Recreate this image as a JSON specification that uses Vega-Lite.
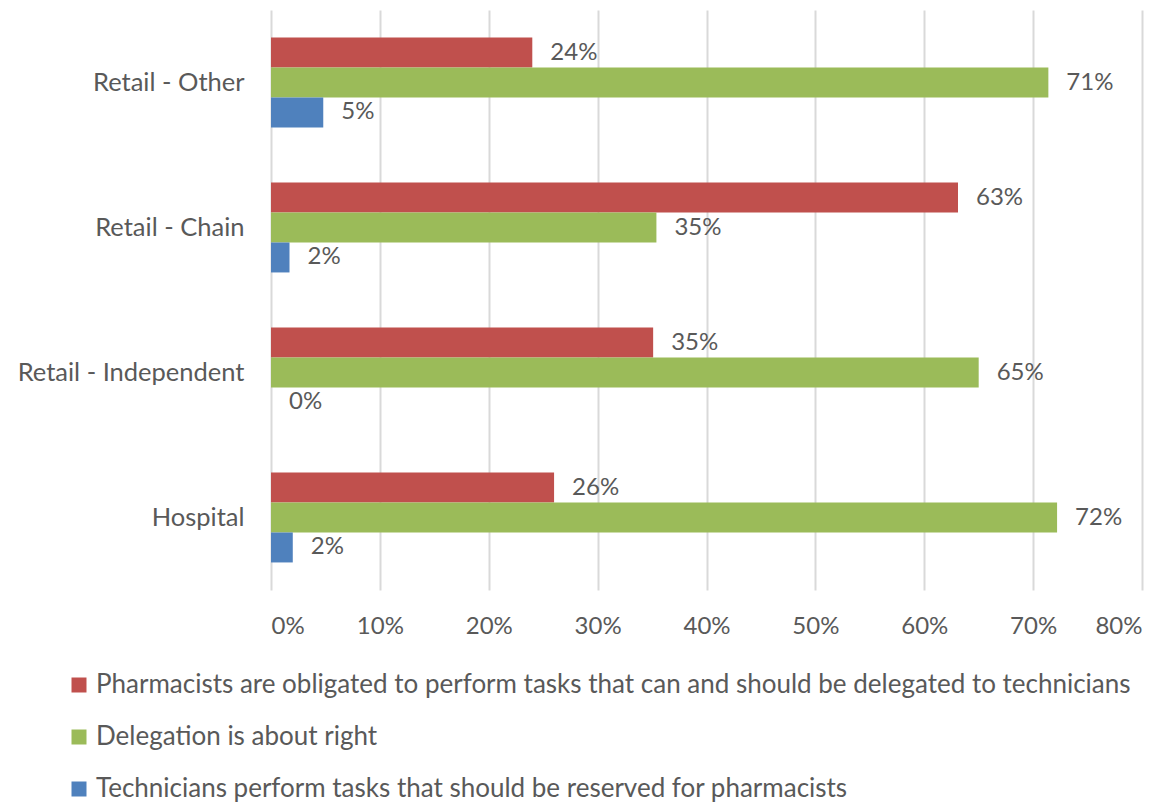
{
  "$schema": "https://vega.github.io/schema/vega-lite/v6.json",
  "autosize": {"type": "none"},
  "padding": {"left": 271, "top": 10, "right": 28, "bottom": 214},
  "width": 871,
  "height": 580,
  "background": "white",
  "config": {
    "font": "Lato",
    "view": {"stroke": null},
    "axis": {"labelFont": "Lato", "labelColor": "#595959"},
    "legend": {"labelFont": "Lato", "labelColor": "#595959", "labelFontSize": 26}
  },
  "data": {
    "values": [
      {"category": "Retail - Other", "series": "Pharmacists are obligated to perform tasks that can and should be delegated to technicians", "order": 1, "value": 0.24},
      {"category": "Retail - Other", "series": "Delegation is about right", "order": 2, "value": 0.714},
      {"category": "Retail - Other", "series": "Technicians perform tasks that should be reserved for pharmacists", "order": 3, "value": 0.048},
      {"category": "Retail - Chain", "series": "Pharmacists are obligated to perform tasks that can and should be delegated to technicians", "order": 1, "value": 0.631},
      {"category": "Retail - Chain", "series": "Delegation is about right", "order": 2, "value": 0.354},
      {"category": "Retail - Chain", "series": "Technicians perform tasks that should be reserved for pharmacists", "order": 3, "value": 0.017},
      {"category": "Retail - Independent", "series": "Pharmacists are obligated to perform tasks that can and should be delegated to technicians", "order": 1, "value": 0.351},
      {"category": "Retail - Independent", "series": "Delegation is about right", "order": 2, "value": 0.65},
      {"category": "Retail - Independent", "series": "Technicians perform tasks that should be reserved for pharmacists", "order": 3, "value": 0},
      {"category": "Hospital", "series": "Pharmacists are obligated to perform tasks that can and should be delegated to technicians", "order": 1, "value": 0.26},
      {"category": "Hospital", "series": "Delegation is about right", "order": 2, "value": 0.722},
      {"category": "Hospital", "series": "Technicians perform tasks that should be reserved for pharmacists", "order": 3, "value": 0.02}
    ]
  },
  "encoding": {
    "y": {
      "field": "category", "type": "nominal",
      "sort": ["Retail - Other", "Retail - Chain", "Retail - Independent", "Hospital"],
      "scale": {"paddingInner": 0.38, "paddingOuter": 0.19},
      "axis": {"title": null, "ticks": false, "domain": false, "labelPadding": 27, "labelLimit": 400, "labelFontSize": 25.5}
    },
    "yOffset": {
      "field": "series", "type": "nominal",
      "sort": {"field": "order"},
      "scale": {"paddingInner": 0, "paddingOuter": 0}
    },
    "x": {
      "field": "value", "type": "quantitative",
      "scale": {"domain": [0, 0.8], "nice": false},
      "axis": {"title": null, "format": ".0%", "values": [0, 0.1, 0.2, 0.3, 0.4, 0.5, 0.6, 0.7, 0.8], "grid": true, "gridColor": "#D9D9D9", "gridWidth": 2, "ticks": false, "domain": false, "labelPadding": 24, "labelFontSize": 24}
    }
  },
  "layer": [
    {
      "mark": {"type": "bar"},
      "encoding": {
        "color": {
          "field": "series", "type": "nominal",
          "sort": {"field": "order"},
          "scale": {
            "domain": ["Pharmacists are obligated to perform tasks that can and should be delegated to technicians", "Delegation is about right", "Technicians perform tasks that should be reserved for pharmacists"],
            "range": ["#C0504D", "#9BBB59", "#4F81BD"]
          },
          "legend": {
            "title": null, "orient": "none", "legendX": -205, "legendY": 662,
            "direction": "vertical", "symbolType": "square", "symbolSize": 225,
            "symbolStrokeWidth": 0, "labelLimit": 1200, "rowPadding": 26, "labelOffset": 4
          }
        }
      }
    },
    {
      "mark": {"type": "text", "align": "left", "baseline": "middle", "dx": 18, "fontSize": 24, "color": "#595959", "font": "Lato"},
      "encoding": {
        "text": {"field": "value", "type": "quantitative", "format": ".0%"}
      }
    }
  ]
}
